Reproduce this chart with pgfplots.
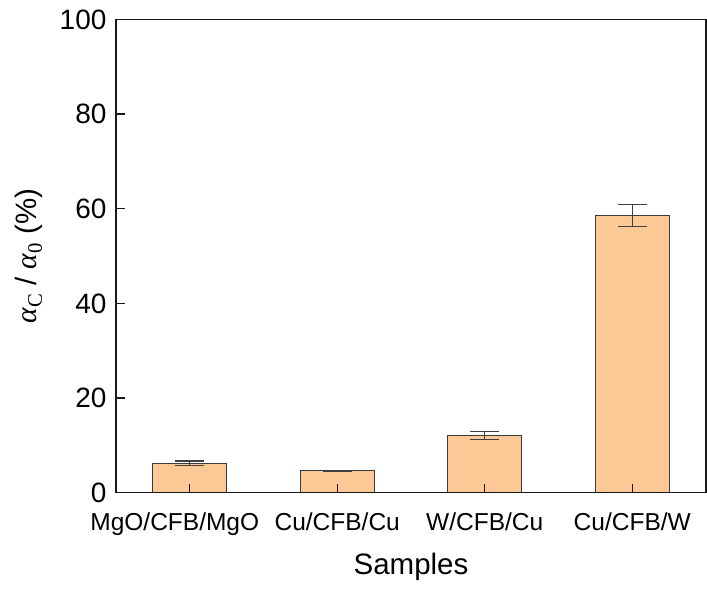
\documentclass[border=0pt]{standalone}
\usepackage{pgfplots}
\pgfplotsset{compat=1.18}
\usepackage{fontspec}
\setmainfont{Liberation Sans}
\newfontfamily\tnr{Liberation Serif}
\definecolor{barfill}{HTML}{FBC896}
\definecolor{baredge}{HTML}{3A3A3A}
\begin{document}
\begin{tikzpicture}
\begin{axis}[
  scale only axis,
  width=590pt, height=473.2pt,
  xmin=-0.5, xmax=3.5,
  ymin=0, ymax=100,
  ytick={0,20,40,60,80,100},
  xtick={0,1,2,3},
  xticklabels={\hspace*{-30pt}MgO/CFB/MgO, Cu/CFB/Cu, W/CFB/Cu, Cu/CFB/W},
  tick align=inside,
  xtick pos=bottom, ytick pos=left,
  major tick length=9pt,
  axis on top,
  axis line style={line width=1.3pt, black!90},
  every tick/.style={line width=1.3pt, black!90},
  /pgf/number format/assume math mode=true,
  yticklabel style={font=\fontsize{28}{32}\selectfont, xshift=-6pt},
  xticklabel style={font=\fontsize{24.5}{28}\selectfont, yshift=-17pt},
  xlabel={Samples},
  ylabel={{\tnr\itshape α}\textsubscript{\tnr C} / {\tnr\itshape α}\textsubscript{\tnr 0} (\%)},
  label style={font=\fontsize{29.5}{33}\selectfont},
  xlabel style={yshift=-10pt},
  ylabel style={yshift=10pt},
]
\addplot[ybar, bar width=74pt, fill=barfill, draw=baredge, line width=1.1pt,
  error bars/.cd, y dir=both, y explicit,
  error bar style={line width=1.1pt, black!75},
  error mark options={line width=1.1pt, black!75, mark size=14.7pt, rotate=90}]
  coordinates {
  (0,6.2) +- (0,0.5)
  (1,4.65) +- (0,0.1)
  (2,12.1) +- (0,0.77)
  (3,58.6) +- (0,2.25)
};
\end{axis}
\path[use as bounding box] (-116pt,-97.3pt) rectangle (591pt,492.7pt);
\end{tikzpicture}
\end{document}
